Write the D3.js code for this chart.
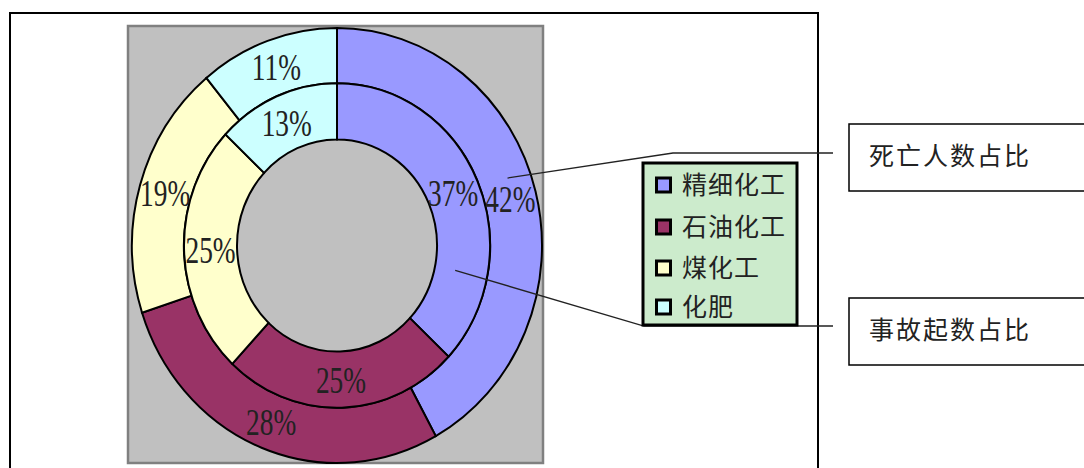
<!DOCTYPE html>
<html><head><meta charset="utf-8">
<script src="https://cdn.jsdelivr.net/npm/d3@7/dist/d3.min.js"></script>
<style>
html,body{margin:0;padding:0;background:#fff;}
svg{display:block;}
</style></head>
<body>
<svg id="chart" width="1084" height="468"></svg>
<script>
// ---- data ----
const categories = ["精细化工", "石油化工", "煤化工", "化肥"];
const deathShare = [42, 28, 19, 11];      // outer ring: 死亡人数占比
const accidentShare = [37, 25, 25, 13];   // inner ring: 事故起数占比
const colors = ["#9999FF", "#993366", "#FFFFCC", "#CCFFFF"];
const calloutLabels = ["死亡人数占比", "事故起数占比"];

// ---- layout ----
const W = 1084, H = 468;
const svg = d3.select("#chart");
const cx = 337, cy = 245.5, ry = 1.061;
const rOuter = 205, rMid = 153, rInner = 100;

// chart border
svg.append("rect").attr("x", 10).attr("y", 13).attr("width", 808).attr("height", 480)
  .attr("fill", "#fff").attr("stroke", "#000").attr("stroke-width", 2);

// plot area
svg.append("rect").attr("x", 128).attr("y", 26).attr("width", 415).attr("height", 437)
  .attr("fill", "#C0C0C0").attr("stroke", "#808080").attr("stroke-width", 2.5);

const pie = d3.pie().sort(null).value(d => d).startAngle(0).endAngle(2 * Math.PI);
const arcOuter = d3.arc().innerRadius(rMid).outerRadius(rOuter);
const arcInner = d3.arc().innerRadius(rInner).outerRadius(rMid);

const g = svg.append("g").attr("transform", `translate(${cx},${cy}) scale(1,${ry})`);
const outerArcs = pie(deathShare);
const innerArcs = pie(accidentShare);

g.selectAll("path.outer").data(outerArcs).join("path").attr("class", "outer")
  .attr("d", arcOuter).attr("fill", (d, i) => colors[i])
  .attr("stroke", "#000").attr("stroke-width", 2).attr("vector-effect", "non-scaling-stroke");
g.selectAll("path.inner").data(innerArcs).join("path").attr("class", "inner")
  .attr("d", arcInner).attr("fill", (d, i) => colors[i])
  .attr("stroke", "#000").attr("stroke-width", 2).attr("vector-effect", "non-scaling-stroke");

// percent labels
function addLabels(arcs, arcGen) {
  arcs.forEach(a => {
    const [x, y] = arcGen.centroid(a);
    svg.append("text")
      .attr("transform", `translate(${cx + x},${cy + y * ry}) scale(0.72,1)`)
      .attr("text-anchor", "middle").attr("dy", "0.35em")
      .attr("font-family", "'Liberation Serif','Times New Roman',serif")
      .attr("font-size", 38).attr("fill", "#222")
      .text(a.data + "%");
  });
}
addLabels(outerArcs, arcOuter);
addLabels(innerArcs, arcInner);

// leader lines (anchored inside 精细化工 slices)
function anchor(a, frac, r) {
  const ang = a.startAngle + (a.endAngle - a.startAngle) * frac;
  return [cx + r * Math.sin(ang), cy - r * Math.cos(ang) * ry];
}
const p1 = anchor(outerArcs[0], 0.46, (rOuter + rMid) / 2 + 3);
const p2 = anchor(innerArcs[0], 0.76, (rMid + rInner) / 2 - 6);
const leaders = [
  [p1, [673, 153], [833, 153]],
  [p2, [644, 326], [833, 326]]
];
leaders.forEach(pts => {
  svg.append("path").attr("d", d3.line()(pts)).attr("fill", "none")
    .attr("stroke", "#222").attr("stroke-width", 1.3);
});

// legend
const lg = svg.append("g");
lg.append("rect").attr("x", 643).attr("y", 163).attr("width", 154).attr("height", 162)
  .attr("fill", "#CCEBCC").attr("stroke", "#000").attr("stroke-width", 3);
const rowY = [185, 227, 268, 307];
categories.forEach((c, i) => {
  lg.append("rect").attr("x", 656.5).attr("y", rowY[i] - 7).attr("width", 14).attr("height", 14)
    .attr("fill", colors[i]).attr("stroke", "#000").attr("stroke-width", 3);
  lg.append("text").attr("x", 682).attr("y", rowY[i]).attr("dy", "0.36em")
    .attr("font-family", "'Noto Sans CJK SC',sans-serif").attr("font-size", 25)
    .attr("letter-spacing", 1).attr("fill", "#222").text(c);
});

// callout boxes
const boxY = [124, 298];
calloutLabels.forEach((t, i) => {
  svg.append("rect").attr("x", 849).attr("y", boxY[i]).attr("width", 260).attr("height", 67)
    .attr("fill", "#fff").attr("stroke", "#000").attr("stroke-width", 1.5);
  svg.append("text").attr("x", 869).attr("y", boxY[i] + 32).attr("dy", "0.36em")
    .attr("font-family", "'Noto Sans CJK SC',sans-serif").attr("font-size", 25)
    .attr("letter-spacing", 2).attr("fill", "#222").text(t);
});
</script>
</body></html>
